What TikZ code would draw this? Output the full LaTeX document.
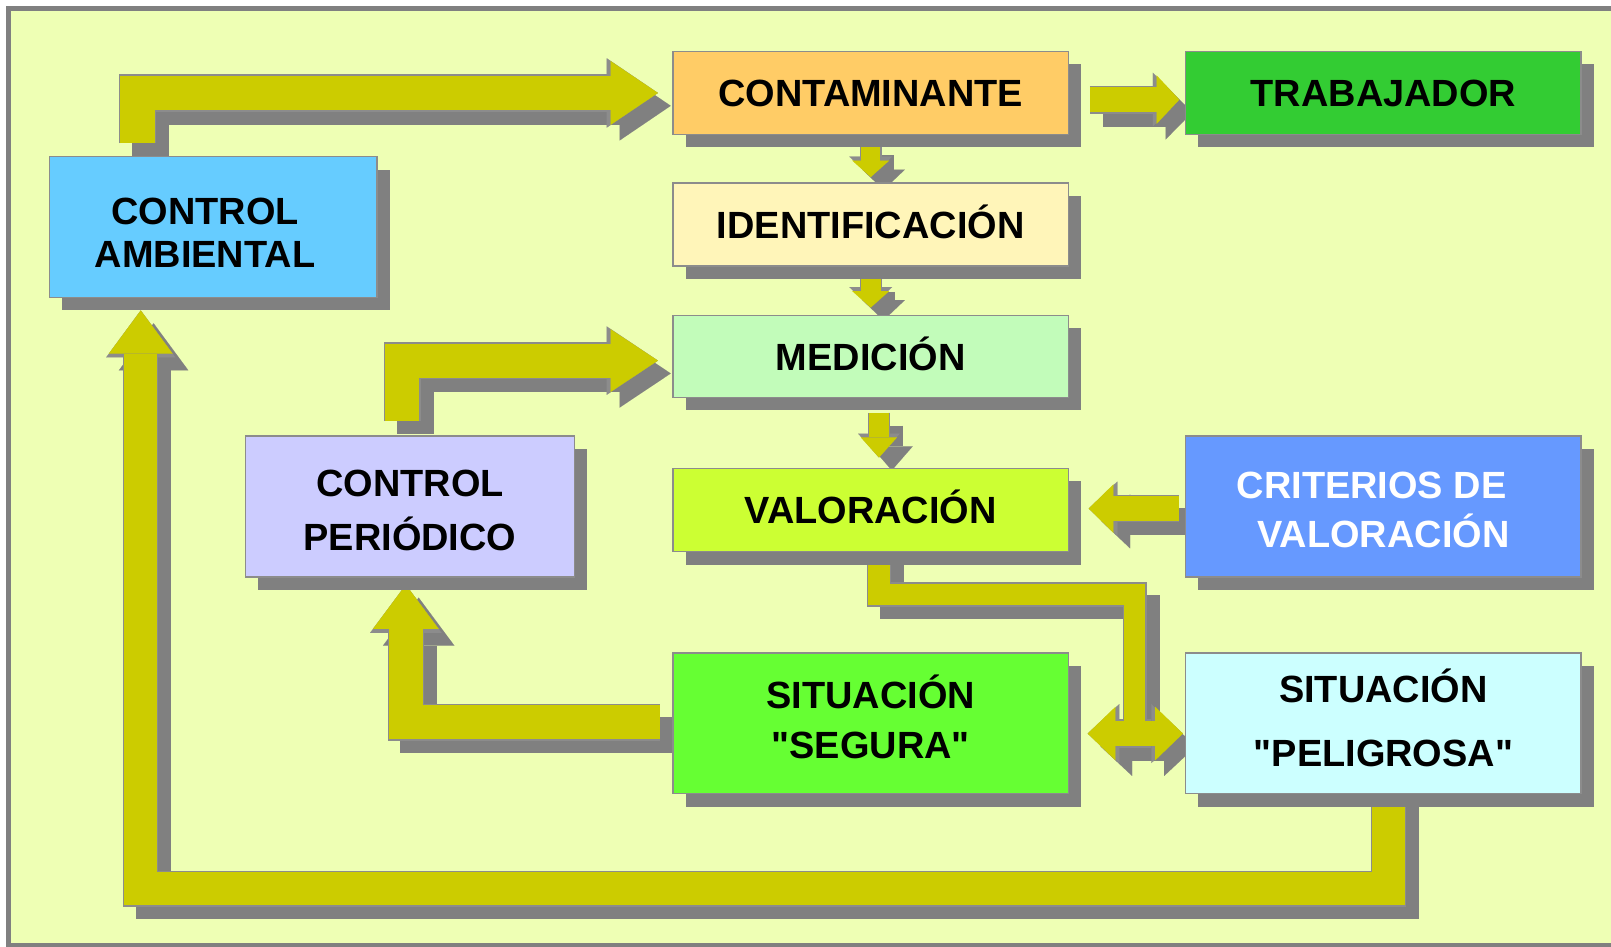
\documentclass[tikz,border=0pt]{standalone}
\usepackage{fontspec}
\setmainfont{Liberation Sans}[Ligatures=TeXOff]
\usetikzlibrary{arrows.meta,calc,shadows}

\definecolor{paper}{RGB}{238,255,180}
\definecolor{framegray}{RGB}{128,128,128}
\definecolor{shadowgray}{RGB}{128,128,128}
\definecolor{edgegray}{RGB}{140,140,140}
\definecolor{arrowyellow}{RGB}{204,204,0}
\definecolor{contfill}{RGB}{255,204,102}
\definecolor{trabfill}{RGB}{51,204,51}
\definecolor{identfill}{RGB}{255,245,185}
\definecolor{medfill}{RGB}{194,252,186}
\definecolor{valfill}{RGB}{204,255,51}
\definecolor{segfill}{RGB}{102,255,51}
\definecolor{critfill}{RGB}{102,153,255}
\definecolor{pelfill}{RGB}{204,255,255}
\definecolor{ambfill}{RGB}{102,204,255}
\definecolor{perfill}{RGB}{204,204,255}

\pgfdeclarelayer{background}
\pgfsetlayers{background,main}

\tikzset{
  box/.style={draw=edgegray, line width=0.4pt, align=center, inner sep=0pt,
    font=\fontsize{10.5}{12.6}\selectfont\bfseries,
    drop shadow={shadow xshift=1.25mm, shadow yshift=-1.25mm,
      fill=shadowgray, opacity=1}},
  widebox/.style={box, minimum width=38.5mm, minimum height=8.1mm,
    text height=7.6pt, text depth=0pt},
  tallbox/.style={box, minimum height=13.7mm},
  headend/.style={-{Triangle[width=\headw, length=\headl, line width=0.01pt]}},
  headboth/.style={{Triangle[width=\headw, length=\headl, line width=0.01pt]}-{Triangle[width=\headw, length=\headl, line width=0.01pt]}},
  headnone/.style={-},
}

% block arrow: shadow, grey edge, yellow body
% #1 shaft width, #2 head width, #3 head length, #4 head style, #5 path
\newcommand{\headw}{1mm}
\newcommand{\headl}{1mm}
\newcommand{\blockarrow}[5]{%
  \foreach \col/\grow/\dx in {shadowgray/0.25mm/1.25mm, edgegray/0.25mm/0mm, arrowyellow/0mm/0mm}{%
    \pgfmathsetlengthmacro\shaftw{#1+\grow}%
    \pgfmathsetlengthmacro\headw{#2+2.2*\grow}%
    \pgfmathsetlengthmacro\headl{#3+1.5*\grow}%
    \draw[color=\col, line width=\shaftw,
      transform canvas={xshift=\dx, yshift=-\dx}, #4] #5;
  }%
}

\begin{document}
\begin{tikzpicture}[x=0.1mm, y=-0.1mm]
\useasboundingbox (0,0) rectangle (1568,921);

% the boxes
\node[widebox, fill=contfill] (cont) at (847.5,90.5) {CONTAMINANTE};
\node[widebox, fill=trabfill] (trab) at (1346.5,90.5) {TRABAJADOR};
\node[widebox, fill=identfill] (ident) at (847.5,218.5) {IDENTIFICACIÓN};
\node[widebox, fill=medfill, minimum height=8mm] (med) at (847.5,347) {MEDICIÓN};
\node[widebox, fill=valfill] (val) at (847.5,496.5) {VALORACIÓN};
\node[tallbox, fill=segfill, minimum width=38.5mm] (seg) at (847.5,704)
  {SITUACIÓN\\[1.1pt]"SEGURA"\rule[-3.7pt]{0pt}{3.7pt}};
\node[tallbox, fill=critfill, text=white, minimum width=38.5mm] (crit) at (1346.5,493)
  {\rule{0pt}{9.3pt}CRITERIOS DE\hspace*{2.3mm}\\[1.1pt]VALORACIÓN};
\node[tallbox, fill=pelfill, minimum width=38.5mm] (pel) at (1346.5,704)
  {SITUACIÓN\\[5pt]"PELIGROSA"\rule[-3.1pt]{0pt}{3.1pt}};
\node[tallbox, fill=ambfill, minimum width=31.9mm] (amb) at (207.5,221)
  {\rule{0pt}{10.4pt}CONTROL\hspace*{1.6mm}\\[-0.65pt]AMBIENTAL\hspace*{1.6mm}};
\node[tallbox, fill=perfill, minimum width=32mm] (per) at (399,493)
  {\rule{0pt}{9.6pt}CONTROL\\[2.5pt]PERIÓDICO};

% the page, its frame and the arrows, behind the boxes
\begin{pgfonlayer}{background}
\fill[white] (0,0) rectangle (1568,921);
\draw[framegray, line width=0.45mm, fill=paper] (8.5,8.5) rectangle (1600,920.5);
% control ambiental -> contaminante
\blockarrow{3.4mm}{6.2mm}{4.6mm}{headend}
  {($(amb.north)+(-73.5,-12.5)$) |- ($(cont.west)+(-14,0)$)}
% control periodico -> medicion
\blockarrow{3.3mm}{6.1mm}{4.6mm}{headend}
  {($(per.north)+(-7.3,-14)$) |- ($(med.west)+(-14,4)$)}
% contaminante -> trabajador
\blockarrow{2.5mm}{4.7mm}{2.2mm}{headend}
  {($(cont.east)+(20,6.5)$) -- ($(trab.west)+(-5.5,6.5)$)}
% the chain down the middle
\blockarrow{1.85mm}{3.6mm}{1.6mm}{headend}
  {($(cont.south)+(0,7)$) -- ($(ident.north)+(0,-5)$)}
\blockarrow{1.9mm}{3.6mm}{1.6mm}{headend}
  {($(ident.south)+(0,12)$) -- ($(med.north)+(0,-7)$)}
\blockarrow{1.9mm}{3.5mm}{1.95mm}{headend}
  {($(med.south)+(8,14)$) -- ($(val.north)+(8,-10)$)}
% criterios -> valoracion
\blockarrow{2.4mm}{4.7mm}{2.4mm}{headend}
  {($(crit.west)+(-6,2)$) -- ($(val.east)+(19,-1.5)$)}
% valoracion -> segura / peligrosa
\coordinate (fork) at ($(pel.west)+(-49,10)$);
\coordinate (bend) at ($(val.south)+(8,41)$);
\blockarrow{2.1mm}{1mm}{1mm}{headnone}
  {($(val.south)+(8,0)$) -- (bend) -| (fork)}
\blockarrow{2.5mm}{5.2mm}{2.7mm}{headboth}
  {($(seg.east)+(18,10)$) -- ($(pel.west)+(-2,10)$)}
\draw[arrowyellow, line width=2.1mm] ($(fork)+(0,-20)$) -- (fork);
% segura -> control periodico
\blockarrow{3.3mm}{6.4mm}{4.3mm}{headend}
  {($(seg.west)+(-12,-1)$) -| ($(per.south)+(-4,7)$)}
% peligrosa -> control ambiental
\blockarrow{3.2mm}{6.2mm}{4.2mm}{headend}
  {($(pel.south)+(5,0)$) -- ++(0,92) -| ($(amb.south)+(-70.5,12)$)}
\end{pgfonlayer}
\end{tikzpicture}
\end{document}
